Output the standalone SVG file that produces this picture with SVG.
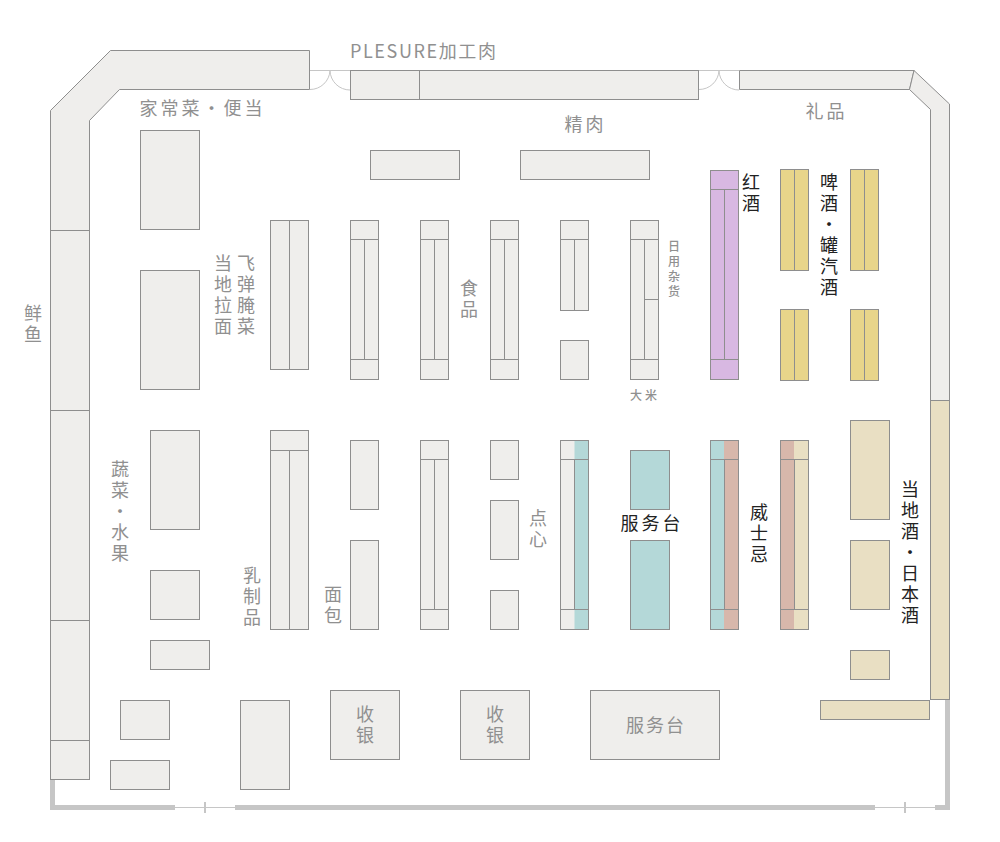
<svg xmlns="http://www.w3.org/2000/svg" width="1000" height="842" viewBox="0 0 1000 842">
<style>
rect,polygon{stroke:#8e8e8e;stroke-width:1;fill:#efeeec}
.d{stroke:#8e8e8e;stroke-width:1;fill:none}
.dn{fill:none;stroke:#c6c6c6;stroke-width:1}
.w{fill:#c6c6c6;stroke:none}
.nb{stroke:none}
.teal{fill:#b4d8d8}.pink{fill:#d7b7ab}.cream{fill:#e9dfc3}.yel{fill:#e8d58a}.pur{fill:#d8b8e2}
text{font-family:"Noto Sans CJK SC","Noto Sans",sans-serif;font-size:18px;fill:#909090;letter-spacing:3px}
.k{fill:#222}
.v{writing-mode:vertical-rl;text-orientation:upright}
.s{font-size:12px;letter-spacing:3px;font-weight:500}
</style>
<rect width="1000" height="842" style="fill:#fff;stroke:none"/>
<g id="walls">
<path class="w" d="M50 779H55V805H175V810H50ZM235 805H875V810H235ZM935 805H945V699H950V810H935Z"/>
<path class="dn" d="M175 807.500H235M875 807.500H935M310 70.500H350M699 70.500H739"/>
<path class="dn" style="stroke-width:2" d="M205 802V813M905 802V813"/>
<path class="dn" d="M310 89.500A20 20 0 0 0 330 70.500A20 20 0 0 0 350 90M699 89.500A20 20 0 0 0 719 70.500A20 20 0 0 0 739 90"/>
</g>
<g id="perimeter">
<polygon points="110.500,50.500 309.500,50.500 309.500,89.500 119.500,89.500 89.500,120.500 89.500,230.500 50.500,230.500 50.500,110.500"/>
<rect x="50.500" y="230.500" width="39" height="180"/>
<rect x="50.500" y="410.500" width="39" height="210"/>
<rect x="50.500" y="620.500" width="39" height="120"/>
<rect x="50.500" y="740.500" width="39" height="39"/>
<polygon points="739.500,70.500 914,70.500 909.500,89.500 739.500,89.500"/>
<polygon points="914,70.500 949.500,104 949.500,400.500 930.500,400.500 930.500,109.500 909.500,89.500"/>
<rect class="cream" x="930.500" y="400.500" width="19" height="299"/>
<rect class="cream" x="820.500" y="700.500" width="109" height="19"/>
<rect x="350.500" y="70.500" width="348" height="29"/>
<path class="d" d="M419.500 70.500V99.500"/>
</g>
<g id="counters">
<rect x="370.500" y="150.500" width="89" height="29"/>
<rect x="520.500" y="150.500" width="129" height="29"/>
<rect x="140.500" y="130.500" width="59" height="99"/>
<rect x="140.500" y="270.500" width="59" height="119"/>
<rect x="150.500" y="430.500" width="49" height="99"/>
<rect x="150.500" y="570.500" width="49" height="49"/>
<rect x="150.500" y="640.500" width="59" height="29"/>
<rect x="120.500" y="700.500" width="49" height="39"/>
<rect x="110.500" y="760.500" width="59" height="29"/>
<rect x="240.500" y="700.500" width="49" height="89"/>
<rect x="330.500" y="690.500" width="69" height="69"/>
<rect x="460.500" y="690.500" width="69" height="69"/>
<rect x="590.500" y="690.500" width="129" height="69"/>
</g>
<g id="shelves-upper">
<rect x="270.500" y="220.500" width="38" height="149"/><path class="d" d="M289.500 220.500V369.500"/>
<rect x="350.500" y="220.500" width="28" height="159"/><path class="d" d="M350.500 239.500H378.500M350.500 359.500H378.500M364.500 239.500V359.500"/>
<rect x="420.500" y="220.500" width="28" height="159"/><path class="d" d="M420.500 239.500H448.500M420.500 359.500H448.500M434.500 239.500V359.500"/>
<rect x="490.500" y="220.500" width="28" height="159"/><path class="d" d="M490.500 239.500H518.500M490.500 359.500H518.500M504.500 239.500V359.500"/>
<rect x="560.500" y="220.500" width="28" height="90"/><path class="d" d="M560.500 239.500H588.500M574.500 239.500V310.500"/>
<rect x="560.500" y="340.500" width="28" height="39"/>
<rect x="630.500" y="220.500" width="28" height="159"/><path class="d" d="M630.500 239.500H658.500M630.500 359.500H658.500M644.500 239.500V359.500M644.500 299.500H658.500"/>
<rect class="pur" x="710.500" y="170.500" width="28" height="209"/><path class="d" d="M710.500 189.500H738.500M710.500 359.500H738.500M724.500 189.500V359.500"/>
<rect class="yel" x="780.500" y="169.500" width="28" height="101"/><path class="d" d="M794.500 169.500V270.500"/>
<rect class="yel" x="780.500" y="309.500" width="28" height="71"/><path class="d" d="M794.500 309.500V380.500"/>
<rect class="yel" x="850.500" y="169.500" width="28" height="101"/><path class="d" d="M864.500 169.500V270.500"/>
<rect class="yel" x="850.500" y="309.500" width="28" height="71"/><path class="d" d="M864.500 309.500V380.500"/>
</g>
<g id="shelves-lower">
<rect x="270.500" y="430.500" width="38" height="199"/><path class="d" d="M270.500 450.500H308.500M289.500 450.500V629.500"/>
<rect x="350.500" y="440.500" width="28" height="69"/>
<rect x="350.500" y="540.500" width="28" height="89"/>
<rect x="420.500" y="440.500" width="28" height="189"/><path class="d" d="M420.500 459.500H448.500M420.500 609.500H448.500M434.500 459.500V609.500"/>
<rect x="490.500" y="440.500" width="28" height="39"/>
<rect x="490.500" y="500.500" width="28" height="59"/>
<rect x="490.500" y="590.500" width="28" height="39"/>
<rect x="560.500" y="440.500" width="28" height="189"/>
<rect class="nb teal" x="574.500" y="441" width="13.500" height="188"/>
<path class="d" d="M560.500 440.500H588.500V629.500H560.500ZM560.500 459.500H588.500M560.500 609.500H588.500M574.500 459.500V609.500"/>
<rect class="teal" x="630.500" y="450.500" width="39" height="59"/>
<rect class="teal" x="630.500" y="540.500" width="39" height="89"/>
<rect class="teal" x="710.500" y="440.500" width="28" height="189"/>
<rect class="nb pink" x="724" y="441" width="14" height="188"/>
<path class="d" d="M710.500 440.500H738.500V629.500H710.500ZM710.500 459.500H738.500M710.500 609.500H738.500M724.500 459.500V609.500"/>
<rect class="cream" x="780.500" y="440.500" width="28" height="189"/>
<rect class="nb pink" x="781" y="441" width="13" height="188"/>
<path class="d" d="M780.500 440.500H808.500V629.500H780.500ZM780.500 459.500H808.500M780.500 609.500H808.500M794.500 459.500V609.500"/>
<rect class="cream" x="850.500" y="420.500" width="39" height="99"/>
<rect class="cream" x="850.500" y="540.500" width="39" height="69"/>
<rect class="cream" x="850.500" y="650.500" width="39" height="29"/>
</g>
<g id="labels">
<text x="139.500" y="115">家常菜·便当</text>
<text x="350" y="58" style="letter-spacing:1.600px">PLESURE加工肉</text>
<text x="564.500" y="131">精肉</text>
<text x="805.500" y="118">礼品</text>
<text class="v" x="33" y="304">鲜鱼</text>
<text class="v" x="246" y="254">飞弹腌菜</text>
<text class="v" x="223" y="254">当地拉面</text>
<text class="v" x="469" y="279">食品</text>
<text class="v s" x="674" y="240">日用杂货</text>
<text class="s" x="630" y="400">大米</text>
<text class="v k" x="751" y="173">红酒</text>
<text class="v k" x="829" y="173">啤酒·罐汽酒</text>
<text class="v" x="120" y="460">蔬菜·水果</text>
<text class="v" x="252" y="566">乳制品</text>
<text class="v" x="333" y="585">面包</text>
<text class="v" x="538" y="509">点心</text>
<text class="k" x="620.500" y="530">服务台</text>
<text class="v k" x="759" y="503">威士忌</text>
<text class="v k" x="910" y="480">当地酒·日本酒</text>
<text class="v" x="365" y="705">收银</text>
<text class="v" x="495" y="705">收银</text>
<text x="626" y="732" style="letter-spacing:2px">服务台</text>
</g>
</svg>
